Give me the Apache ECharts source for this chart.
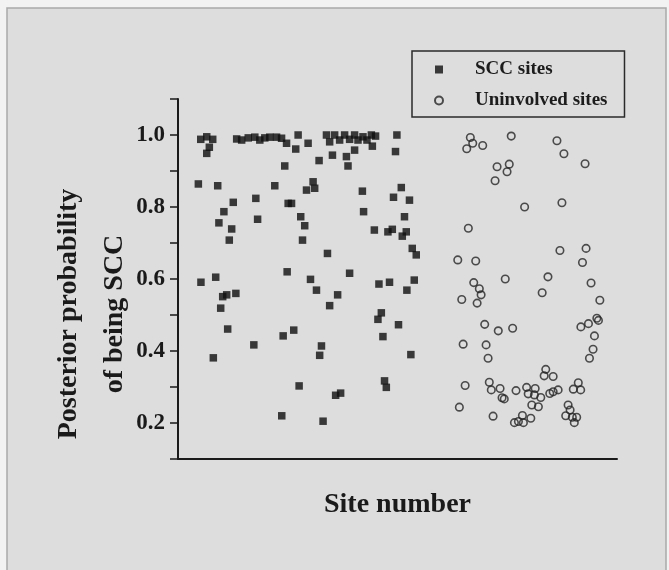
<!DOCTYPE html>
<html>
<head>
<meta charset="utf-8">
<script src="https://cdn.jsdelivr.net/npm/echarts@6/dist/echarts.min.js"></script>
<style>
html,body{margin:0;padding:0;background:#f2f2f2;}
#chart{width:669px;height:570px;}
</style>
</head>
<body>
<div id="chart"></div>
<script>
// ---- data ----
const sccSite = [11.4,14.4,17.4,15.7,14.4,10.2,29.4,31.9,35.2,38.5,41,43.5,46,49.4,51.9,54.4,53.5,19.9,48.5,27.7,39,23,55.2,20.5,39.9,26.9,25.7,54.7,18.9,11.5,29,24.4,22.4,21.4,24.9,52.7,58,38,17.7,71.9,71,102.7,116.7,60.7,79,81.5,103.5,104.4,52,72.7,60.2,65.2,59,70.7,77.4,84.4,85.2,74.4,76,78.5,81,83.5,86,88.5,90.2,92.7,94.7,96.9,99,97.4,88.5,109.7,109,67.7,64.4,68.5,56.9,92.4,111.9,108,116,61.5,93,113.5,63.5,62.4,98.4,105.2,107.4,114.4,112.4,117.4,119.4,74.9,86,66.4,69.4,80,76,100.7,106,118.4,114.7,101.9,100.2,110.5];
const sccProb = [0.988,0.995,0.988,0.966,0.949,0.864,0.989,0.986,0.992,0.994,0.986,0.992,0.994,0.994,0.991,0.977,0.914,0.859,0.859,0.813,0.824,0.787,0.810,0.756,0.766,0.739,0.708,0.620,0.605,0.591,0.560,0.556,0.551,0.519,0.461,0.442,0.458,0.417,0.381,0.414,0.388,0.440,0.390,0.303,0.277,0.283,0.317,0.299,0.220,0.205,1.0,0.977,0.961,0.929,0.944,0.940,0.914,1.0,0.981,1.0,0.986,1.0,0.988,1.0,0.986,0.995,0.986,1.0,0.997,0.969,0.958,1.0,0.954,0.870,0.847,0.852,0.810,0.844,0.854,0.827,0.819,0.773,0.787,0.773,0.748,0.708,0.736,0.731,0.738,0.731,0.719,0.685,0.667,0.671,0.616,0.599,0.569,0.556,0.526,0.586,0.591,0.597,0.569,0.506,0.488,0.473];

const uninvSite = [146.5,147.7,144.7,152.7,167,189.9,193.4,204,159.9,166,164.9,158.9,173.7,192.4,145.5,140.2,149.2,164,148.2,151,151.9,149.9,142.2,191.4,204.5,202.7,185.4,182.5,207,211.4,153.7,160.5,167.7,201.9,205.7,209.9,210.7,208.7,142.9,154.4,155.4,208,206.2,143.9,141,157.9,156,157,161.4,162.4,163.5,169.4,174.7,175.5,179,178.6,181.8,177.3,180.6,184.3,183.5,188,186.3,188,190.5,168.6,170.6,173.1,172.6,176.8,198.1,201.8,200.6,195.5,196.5,194.3,197.6,199.8,198.6];
const uninvProb = [0.993,0.977,0.962,0.971,0.997,0.984,0.948,0.920,0.912,0.919,0.898,0.873,0.800,0.812,0.741,0.653,0.650,0.600,0.590,0.573,0.556,0.533,0.543,0.679,0.685,0.646,0.606,0.562,0.589,0.541,0.474,0.456,0.463,0.467,0.476,0.491,0.485,0.442,0.419,0.417,0.380,0.405,0.380,0.304,0.244,0.219,0.313,0.292,0.296,0.270,0.267,0.290,0.299,0.281,0.296,0.278,0.271,0.250,0.245,0.349,0.331,0.329,0.282,0.287,0.292,0.201,0.204,0.201,0.221,0.213,0.294,0.292,0.312,0.250,0.236,0.220,0.216,0.216,0.201];

const seriesNames = ['SCC sites', 'Uninvolved sites'];
const xTitle = 'Site number';
const yTitle = 'Posterior probability\nof being SCC';
const yLabelValues = ['0.2','0.4','0.6','0.8','1.0'];

const sccData = sccSite.map((s, i) => [s, sccProb[i]]);
const uninvData = uninvSite.map((s, i) => [s, uninvProb[i]]);

const serif = "'Liberation Serif', 'Times New Roman', serif";
const chart = echarts.init(document.getElementById('chart'), null, {renderer: 'canvas'});
chart.setOption({
  backgroundColor: '#f2f2f2',
  animation: false,
  graphic: {
    elements: [{
      type: 'rect', z: -10, silent: true,
      shape: {x: 7, y: 8, width: 659, height: 570},
      style: {fill: '#dddddd', stroke: '#a9a9a9', lineWidth: 1.5}
    }]
  },
  grid: {left: 178, right: 52, top: 99, bottom: 111, containLabel: false},
  legend: {
    orient: 'vertical', left: 412, top: 51,
    data: seriesNames,
    itemWidth: 8, itemHeight: 8, itemGap: 12,
    padding: [9, 17, 7, 22],
    borderColor: '#2a2a2a', borderWidth: 1.5,
    textStyle: {fontFamily: serif, fontWeight: 'bold', fontSize: 19, color: '#1c1c1c', lineHeight: 19, padding: [0, 0, 0, 27]}
  },
  xAxis: {
    type: 'value', min: 0, max: 220,
    axisLine: {show: true, lineStyle: {color: '#1a1a1a', width: 2}},
    axisTick: {show: false}, axisLabel: {show: false}, splitLine: {show: false},
    name: xTitle, nameLocation: 'middle', nameGap: 32, nameMoveOverlap: false,
    nameTextStyle: {fontFamily: serif, fontWeight: 'bold', fontSize: 28, color: '#1a1a1a'}
  },
  yAxis: {
    type: 'value', min: 0.1, max: 1.1, interval: 0.1,
    axisLine: {show: true, lineStyle: {color: '#1a1a1a', width: 2}},
    axisTick: {show: true, length: 8, lineStyle: {color: '#1a1a1a', width: 1.5}},
    axisLabel: {
      margin: 13, fontFamily: serif, fontWeight: 'bold', fontSize: 23, color: '#1a1a1a',
      formatter: function (v) {
        const s = (Math.round(v * 10) / 10).toFixed(1);
        return yLabelValues.indexOf(s) >= 0 ? s : '';
      }
    },
    splitLine: {show: false},
    name: yTitle, nameLocation: 'middle', nameRotate: 90, nameGap: 40, nameMoveOverlap: false,
    nameTextStyle: {fontFamily: serif, fontWeight: 'bold', fontSize: 28, lineHeight: 46, color: '#1a1a1a', padding: [0, 70, 0, 0]}
  },
  series: [
    {
      name: seriesNames[0], type: 'scatter', symbol: 'rect', symbolSize: 7.5,
      itemStyle: {color: '#0f0f0f'},
      data: sccData
    },
    {
      name: seriesNames[1], type: 'scatter', symbol: 'circle', symbolSize: 7.5,
      itemStyle: {color: 'rgba(0,0,0,0)', borderColor: '#262626', borderWidth: 1.6},
      data: uninvData
    }
  ]
});
</script>
</body>
</html>
